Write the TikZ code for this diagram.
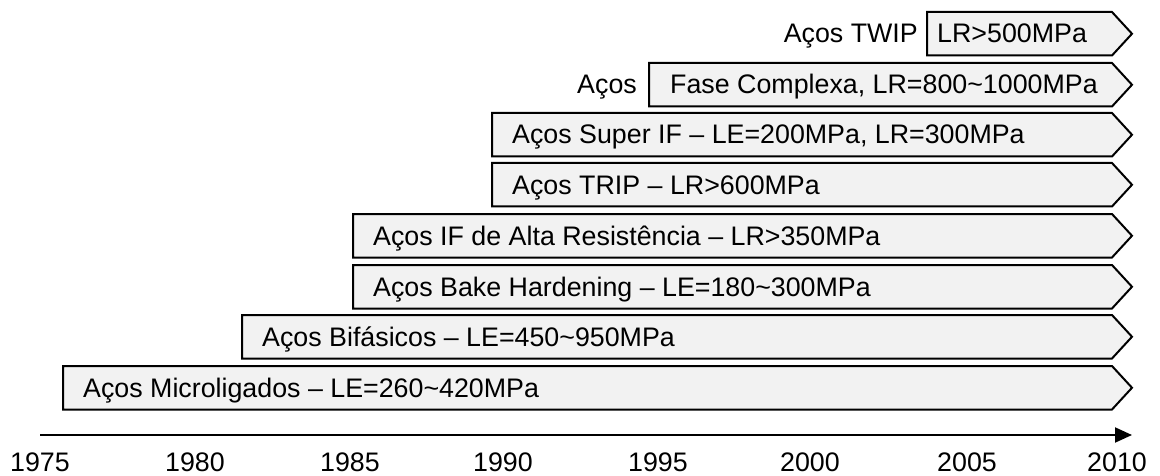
\documentclass[tikz,border=0pt]{standalone}
\usepackage{fontspec}
\setmainfont{Liberation Sans}
\usetikzlibrary{arrows.meta}
\definecolor{barfill}{HTML}{F2F2F2}
\newcommand\barfont{\fontsize{26.8}{32}\selectfont}

% one timeline bar: name, left x, top y, text padding, label
\newcommand\steelrow[5]{%
  \draw[barshape] (#2,#3) -- (1112,#3) -- (1132,#3+21.75) -- (1112,#3+43.5)
    -- (#2,#3+43.5) -- cycle;
  \node[barlabel] (#1) at (#2+#4,#3+31) {#5};}

\tikzset{
  barshape/.style={draw=black, line width=2pt, fill=barfill, line join=miter},
  barlabel/.style={anchor=base west, inner sep=0pt, font=\barfont},
  sidelabel/.style={anchor=base east, inner sep=0pt, font=\barfont},
  yearlabel/.style={anchor=base, inner sep=0pt, font=\barfont},
  timeaxis/.style={draw=black, line width=2pt, -{Triangle[length=17pt,width=15pt]}}
}

\begin{document}
\begin{tikzpicture}[x=1pt, y=-1pt]
  \useasboundingbox (0,0) rectangle (1160,476);

  \steelrow{twip}{927}{12}{10}{LR>500MPa}
  \steelrow{cp}{649}{63}{21}{Fase Complexa, LR=800\textasciitilde1000MPa}
  \steelrow{superif}{492}{113}{20}{Aços Super IF – LE=200MPa, LR=300MPa}
  \steelrow{trip}{492}{163}{20}{Aços TRIP – LR>600MPa}
  \steelrow{ifar}{353}{214}{20}{Aços IF de Alta Resistência – LR>350MPa}
  \steelrow{bh}{353}{265}{20}{Aços Bake Hardening – LE=180\textasciitilde300MPa}
  \steelrow{dp}{242}{315}{20}{Aços Bifásicos – LE=450\textasciitilde950MPa}
  \steelrow{micro}{63}{366}{20}{Aços Microligados – LE=260\textasciitilde420MPa}

  \node[sidelabel] (twiptag) at (918,43) {Aços TWIP};
  \node[sidelabel] (cptag) at (637,94) {Aços};

  % time axis
  \coordinate (axstart) at (40,435);
  \coordinate (axend) at (1132,435);
  \draw[timeaxis] (axstart) -- (axend);

  \foreach \yr/\xx in {1975/40, 1980/195, 1985/350, 1990/503, 1995/658,
                       2000/810, 2005/967, 2010/1117}
    \node[yearlabel] (y\yr) at (\xx,471) {\yr};
\end{tikzpicture}
\end{document}
